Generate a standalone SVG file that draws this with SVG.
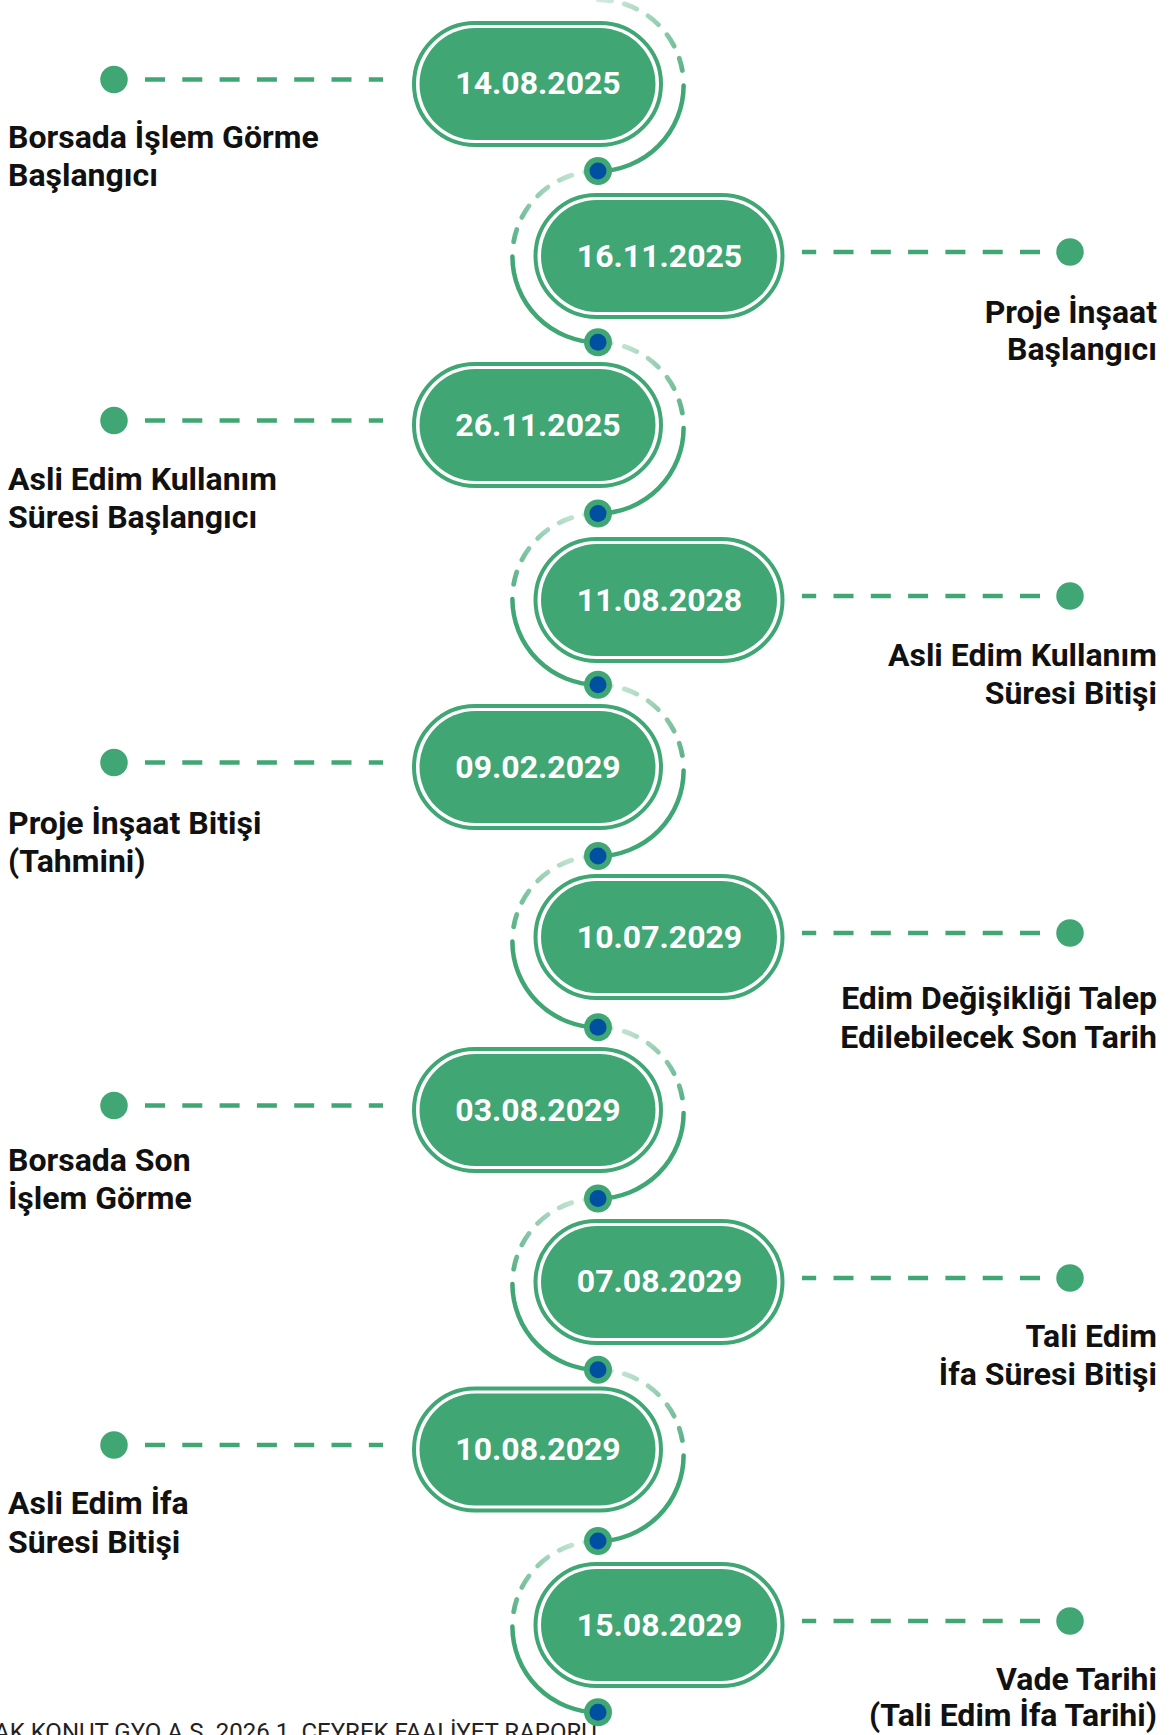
<svg xmlns="http://www.w3.org/2000/svg" width="1170" height="1735" viewBox="0 0 1170 1735">
<style>
.ring{fill:#ffffff;stroke:#40A674;stroke-width:4}
.fill{fill:#40A674}
.date{font-family:Roboto,"Noto Sans",sans-serif;font-weight:700;font-size:32px;fill:#ffffff;text-anchor:middle}
.lbl{font-family:Roboto,"Noto Sans",sans-serif;font-weight:700;font-size:32px;fill:#111111}
.r{text-anchor:end}
.lead{stroke:#40A674;stroke-width:4.5;stroke-dasharray:20 17.3;fill:none}
.ldot{fill:#40A674}
.solid{fill:none;stroke:#40A674;stroke-width:4.5;stroke-linecap:round}
.dashR{fill:none;stroke:url(#gR);stroke-width:4.8;stroke-linecap:round;stroke-dasharray:13.5 13.2}
.dashL{fill:none;stroke:url(#gL);stroke-width:4.8;stroke-linecap:round;stroke-dasharray:13.5 13.2}
.dot{fill:#40A674}
.dotin{fill:#0050A2}
.foot{font-family:Roboto,"Noto Sans",sans-serif;font-size:24px;fill:#222222}
</style>
<defs>
<linearGradient id="gR" x1="0" y1="0" x2="1" y2="1">
<stop offset="0" stop-color="#40A674" stop-opacity="0.22"/>
<stop offset="1" stop-color="#40A674" stop-opacity="0.85"/>
</linearGradient>
<linearGradient id="gL" x1="1" y1="0" x2="0" y2="1">
<stop offset="0" stop-color="#40A674" stop-opacity="0.22"/>
<stop offset="1" stop-color="#40A674" stop-opacity="0.85"/>
</linearGradient>
</defs>

<text class="foot" x="-6" y="1740">AK KONUT GYO A.S. 2026 1. CEYREK FAALİYET RAPORU</text>

<g id="connectors">
<path class="dashR" d="M598 -0.25 A85.625 85.625 0 0 1 682.32 70.5"/>
<path class="solid" d="M683.6 85.4 A85.625 85.625 0 0 1 598 171"/>
<path class="dashL" d="M598 171 A85.625 85.625 0 0 0 513.68 241.75"/>
<path class="solid" d="M512.4 256.6 A85.625 85.625 0 0 0 598 342.25"/>
<path class="dashR" d="M598 342.25 A85.625 85.625 0 0 1 682.32 413"/>
<path class="solid" d="M683.6 427.9 A85.625 85.625 0 0 1 598 513.5"/>
<path class="dashL" d="M598 513.5 A85.625 85.625 0 0 0 513.68 584.25"/>
<path class="solid" d="M512.4 599.1 A85.625 85.625 0 0 0 598 684.75"/>
<path class="dashR" d="M598 684.75 A85.625 85.625 0 0 1 682.32 755.5"/>
<path class="solid" d="M683.6 770.4 A85.625 85.625 0 0 1 598 856"/>
<path class="dashL" d="M598 856 A85.625 85.625 0 0 0 513.68 926.75"/>
<path class="solid" d="M512.4 941.6 A85.625 85.625 0 0 0 598 1027.25"/>
<path class="dashR" d="M598 1027.25 A85.625 85.625 0 0 1 682.32 1098"/>
<path class="solid" d="M683.6 1112.9 A85.625 85.625 0 0 1 598 1198.5"/>
<path class="dashL" d="M598 1198.5 A85.625 85.625 0 0 0 513.68 1269.25"/>
<path class="solid" d="M512.4 1284.1 A85.625 85.625 0 0 0 598 1369.75"/>
<path class="dashR" d="M598 1369.75 A85.625 85.625 0 0 1 682.32 1440.5"/>
<path class="solid" d="M683.6 1455.4 A85.625 85.625 0 0 1 598 1541"/>
<path class="dashL" d="M598 1541 A85.625 85.625 0 0 0 513.68 1611.75"/>
<path class="solid" d="M512.4 1626.6 A85.625 85.625 0 0 0 598 1712.25"/>

<line class="lead" x1="145" y1="79.5" x2="383" y2="79.5"/>
<line class="lead" x1="1040" y1="252" x2="802" y2="252"/>
<line class="lead" x1="145" y1="420.5" x2="383" y2="420.5"/>
<line class="lead" x1="1040" y1="596" x2="802" y2="596"/>
<line class="lead" x1="145" y1="762.5" x2="383" y2="762.5"/>
<line class="lead" x1="1040" y1="933" x2="802" y2="933"/>
<line class="lead" x1="145" y1="1105.5" x2="383" y2="1105.5"/>
<line class="lead" x1="1040" y1="1278" x2="802" y2="1278"/>
<line class="lead" x1="145" y1="1445" x2="383" y2="1445"/>
<line class="lead" x1="1040" y1="1621" x2="802" y2="1621"/>

<g>
<circle class="dot" cx="598" cy="171" r="14"/><circle class="dotin" cx="598" cy="171" r="8.5"/>
<circle class="dot" cx="598" cy="342.25" r="14"/><circle class="dotin" cx="598" cy="342.25" r="8.5"/>
<circle class="dot" cx="598" cy="513.5" r="14"/><circle class="dotin" cx="598" cy="513.5" r="8.5"/>
<circle class="dot" cx="598" cy="684.75" r="14"/><circle class="dotin" cx="598" cy="684.75" r="8.5"/>
<circle class="dot" cx="598" cy="856" r="14"/><circle class="dotin" cx="598" cy="856" r="8.5"/>
<circle class="dot" cx="598" cy="1027.25" r="14"/><circle class="dotin" cx="598" cy="1027.25" r="8.5"/>
<circle class="dot" cx="598" cy="1198.5" r="14"/><circle class="dotin" cx="598" cy="1198.5" r="8.5"/>
<circle class="dot" cx="598" cy="1369.75" r="14"/><circle class="dotin" cx="598" cy="1369.75" r="8.5"/>
<circle class="dot" cx="598" cy="1541" r="14"/><circle class="dotin" cx="598" cy="1541" r="8.5"/>
<circle class="dot" cx="598" cy="1712.25" r="14"/><circle class="dotin" cx="598" cy="1712.25" r="8.5"/>
</g>
</g>

<g id="n1">
<rect class="ring" x="414" y="23" width="247" height="122" rx="61"/>
<rect class="fill" x="419.5" y="28" width="236" height="112" rx="56"/>
<text class="date" x="538" y="94">14.08.2025</text>
<circle class="ldot" cx="114" cy="79.5" r="13.75"/>
<text class="lbl" x="8" y="148">Borsada İşlem Görme</text>
<text class="lbl" x="8" y="186">Başlangıcı</text>
</g>

<g id="n2">
<rect class="ring" x="535.5" y="195" width="247" height="122" rx="61"/>
<rect class="fill" x="541" y="200" width="236" height="112" rx="56"/>
<text class="date" x="659.5" y="266.5">16.11.2025</text>
<circle class="ldot" cx="1070" cy="252" r="13.75"/>
<text class="lbl r" x="1157" y="323">Proje İnşaat</text>
<text class="lbl r" x="1157" y="360">Başlangıcı</text>
</g>

<g id="n3">
<rect class="ring" x="414" y="364" width="247" height="122" rx="61"/>
<rect class="fill" x="419.5" y="369" width="236" height="112" rx="56"/>
<text class="date" x="538" y="435.5">26.11.2025</text>
<circle class="ldot" cx="114" cy="420.5" r="13.75"/>
<text class="lbl" x="8" y="490">Asli Edim Kullanım</text>
<text class="lbl" x="8" y="528">Süresi Başlangıcı</text>
</g>

<g id="n4">
<rect class="ring" x="535.5" y="539" width="247" height="122" rx="61"/>
<rect class="fill" x="541" y="544" width="236" height="112" rx="56"/>
<text class="date" x="659.5" y="610.5">11.08.2028</text>
<circle class="ldot" cx="1070" cy="596" r="13.75"/>
<text class="lbl r" x="1157" y="666">Asli Edim Kullanım</text>
<text class="lbl r" x="1157" y="704">Süresi Bitişi</text>
</g>

<g id="n5">
<rect class="ring" x="414" y="706" width="247" height="122" rx="61"/>
<rect class="fill" x="419.5" y="711" width="236" height="112" rx="56"/>
<text class="date" x="538" y="777.5">09.02.2029</text>
<circle class="ldot" cx="114" cy="762.5" r="13.75"/>
<text class="lbl" x="8" y="834">Proje İnşaat Bitişi</text>
<text class="lbl" x="8" y="872">(Tahmini)</text>
</g>

<g id="n6">
<rect class="ring" x="535.5" y="876" width="247" height="122" rx="61"/>
<rect class="fill" x="541" y="881" width="236" height="112" rx="56"/>
<text class="date" x="659.5" y="947.5">10.07.2029</text>
<circle class="ldot" cx="1070" cy="933" r="13.75"/>
<text class="lbl r" x="1157" y="1009">Edim Değişikliği Talep</text>
<text class="lbl r" x="1157" y="1048">Edilebilecek Son Tarih</text>
</g>

<g id="n7">
<rect class="ring" x="414" y="1049" width="247" height="122" rx="61"/>
<rect class="fill" x="419.5" y="1054" width="236" height="112" rx="56"/>
<text class="date" x="538" y="1120.5">03.08.2029</text>
<circle class="ldot" cx="114" cy="1105.5" r="13.75"/>
<text class="lbl" x="8" y="1171">Borsada Son</text>
<text class="lbl" x="8" y="1209">İşlem Görme</text>
</g>

<g id="n8">
<rect class="ring" x="535.5" y="1221" width="247" height="122" rx="61"/>
<rect class="fill" x="541" y="1226" width="236" height="112" rx="56"/>
<text class="date" x="659.5" y="1292">07.08.2029</text>
<circle class="ldot" cx="1070" cy="1278" r="13.75"/>
<text class="lbl r" x="1157" y="1347">Tali Edim</text>
<text class="lbl r" x="1157" y="1385">İfa Süresi Bitişi</text>
</g>

<g id="n9">
<rect class="ring" x="414" y="1388.5" width="247" height="122" rx="61"/>
<rect class="fill" x="419.5" y="1393.5" width="236" height="112" rx="56"/>
<text class="date" x="538" y="1460">10.08.2029</text>
<circle class="ldot" cx="114" cy="1445" r="13.75"/>
<text class="lbl" x="8" y="1514">Asli Edim İfa</text>
<text class="lbl" x="8" y="1553">Süresi Bitişi</text>
</g>

<g id="n10">
<rect class="ring" x="535.5" y="1564" width="247" height="122" rx="61"/>
<rect class="fill" x="541" y="1569" width="236" height="112" rx="56"/>
<text class="date" x="659.5" y="1635.5">15.08.2029</text>
<circle class="ldot" cx="1070" cy="1621" r="13.75"/>
<text class="lbl r" x="1157" y="1690">Vade Tarihi</text>
<text class="lbl r" x="1157" y="1726">(Tali Edim İfa Tarihi)</text>
</g>
</svg>
